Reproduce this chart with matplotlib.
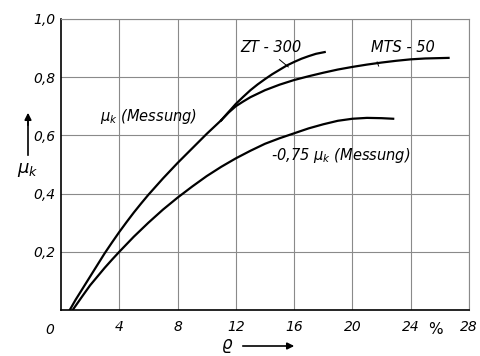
import matplotlib.pyplot as plt

# mu_k (Messung), common part up to the split
rho_mu = [0.6, 1, 1.5, 2, 2.5, 3, 3.5, 4, 4.5, 5, 5.5, 6, 7, 8, 9, 10, 11]
mu_mu = [0, 0.035, 0.075, 0.115, 0.155, 0.195, 0.232, 0.268, 0.302, 0.335,
         0.366, 0.396, 0.452, 0.505, 0.555, 0.605, 0.652]

# ZT-300 branch
rho_zt = [11, 11.5, 12, 12.5, 13, 13.5, 14, 14.5, 15, 15.5, 16, 16.5, 17, 17.5, 18.1]
mu_zt = [0.652, 0.68, 0.708, 0.732, 0.755, 0.775, 0.793, 0.81, 0.825, 0.84,
         0.852, 0.863, 0.872, 0.88, 0.886]

# MTS-50 branch
rho_mts = [11, 11.5, 12, 12.5, 13, 14, 15, 16, 17, 18, 19, 20, 21, 22, 23, 24, 25, 26.6]
mu_mts = [0.652, 0.678, 0.70, 0.716, 0.731, 0.755, 0.774, 0.79, 0.803, 0.815,
          0.826, 0.835, 0.843, 0.85, 0.856, 0.861, 0.864, 0.866]

# 0,75 mu_k (Messung)
rho_low = [0.8, 1.5, 2, 2.5, 3, 3.5, 4, 5, 6, 7, 8, 9, 10, 11, 12, 13, 14, 15,
           16, 17, 18, 19, 20, 21, 22, 22.8]
mu_low = [0, 0.05, 0.085, 0.115, 0.145, 0.173, 0.2, 0.252, 0.3, 0.345, 0.386,
          0.424, 0.46, 0.492, 0.521, 0.547, 0.571, 0.59, 0.607, 0.624, 0.638,
          0.65, 0.657, 0.66, 0.659, 0.657]

x_ticks = [4, 8, 12, 16, 20, 24, 28]
x_labels = ["4", "8", "12", "16", "20", "24", "28"]
y_ticks = [0.2, 0.4, 0.6, 0.8, 1.0]
y_labels = ["0,2", "0,4", "0,6", "0,8", "1,0"]

plt.rcParams["font.family"] = "DejaVu Sans"
plt.rcParams["font.style"] = "italic"
plt.rcParams["mathtext.fontset"] = "dejavusans"

fig = plt.figure(figsize=(4.8, 3.56), dpi=100)
ax = fig.add_axes([0.127, 0.129, 0.850, 0.818])

lw = 1.6
ax.plot(rho_mu, mu_mu, color="black", lw=lw)
ax.plot(rho_zt, mu_zt, color="black", lw=lw)
ax.plot(rho_mts, mu_mts, color="black", lw=lw)
ax.plot(rho_low, mu_low, color="black", lw=lw)

ax.set_xlim(0, 28)
ax.set_ylim(0, 1.0)
ax.set_xticks(x_ticks)
ax.set_xticklabels(x_labels, fontstyle="italic")
ax.set_yticks(y_ticks)
ax.set_yticklabels(y_labels, fontstyle="italic")
ax.tick_params(length=0, labelsize=10)
ax.tick_params(axis="y", pad=4)
ax.tick_params(axis="x", pad=7)
ax.grid(True, color="#8a8a8a", lw=0.8)

for s in ["left", "bottom"]:
    ax.spines[s].set_linewidth(1.2)
for s in ["top", "right"]:
    ax.spines[s].set_color("#8a8a8a")
    ax.spines[s].set_linewidth(0.8)

ax.text(-0.8, -0.045, "0", fontsize=10, ha="center", va="top", fontstyle="italic")
ax.text(25.7, -0.04, "%", fontsize=11, ha="center", va="top", fontstyle="normal")

# curve labels
ax.text(12.3, 0.90, "ZT - 300", fontsize=10.5, ha="left", va="center", fontstyle="italic")
ax.plot([15.0, 15.6], [0.86, 0.835], color="black", lw=0.7)
ax.text(21.3, 0.90, "MTS - 50", fontsize=10.5, ha="left", va="center", fontstyle="italic")
ax.plot([21.7, 21.8], [0.852, 0.838], color="black", lw=0.7)
ax.text(2.7, 0.665, r"$\mu_k$ (Messung)", fontsize=10.5, ha="left", va="center",
        fontstyle="italic")
ax.text(14.4, 0.53, r"-0,75 $\mu_k$ (Messung)", fontsize=10.5, ha="left", va="center",
        fontstyle="italic")

# axis names with arrows
fig.text(28 / 480, 1 - 170 / 356, r"$\mu_k$", fontsize=13, ha="center", va="center")
fig.add_artist(plt.Line2D([28 / 480, 28 / 480], [1 - 155 / 356, 1 - 122 / 356],
                          color="black", lw=1.2))
ax.annotate("", xy=(28 / 480, 1 - 110 / 356), xytext=(28 / 480, 1 - 128 / 356),
            xycoords="figure fraction", textcoords="figure fraction",
            arrowprops=dict(arrowstyle="-|>", color="black", lw=1.2))
fig.text(227 / 480, 1 - 344 / 356, "ϱ", fontsize=12, ha="center", va="center",
         fontstyle="italic")
ax.annotate("", xy=(297 / 480, 1 - 346 / 356), xytext=(240 / 480, 1 - 346 / 356),
            xycoords="figure fraction", textcoords="figure fraction",
            arrowprops=dict(arrowstyle="-|>", color="black", lw=1.2))

plt.savefig("out.png", dpi=100)
plt.close()
